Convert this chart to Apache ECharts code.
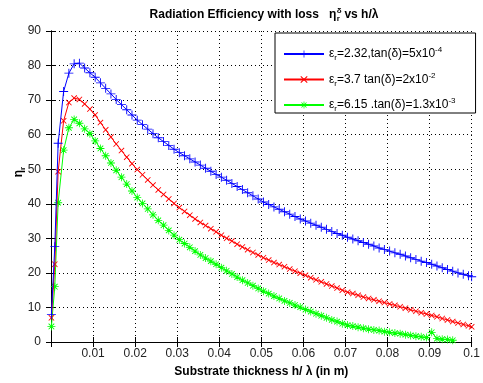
<!DOCTYPE html>
<html>
<head>
<meta charset="utf-8">
<script src="https://cdn.jsdelivr.net/npm/echarts@6/dist/echarts.min.js"></script>
<style>
  html, body { margin: 0; padding: 0; background: #fff; }
  #chart { width: 483px; height: 383px; }
</style>
</head>
<body>
<div id="chart"></div>
<script>
// Substrate thickness h/λ (x values shared by all curves)
const thickness = [
  0.0001, 0.0009, 0.0017, 0.003, 0.00425, 0.0055, 0.00675, 0.008, 0.00925, 0.0105,
  0.01175, 0.013, 0.01425, 0.0155, 0.01675, 0.018, 0.01925, 0.0205, 0.02175, 0.023,
  0.02425, 0.0255, 0.02675, 0.028, 0.02925, 0.0305, 0.03175, 0.033, 0.03425, 0.0355,
  0.03675, 0.038, 0.03925, 0.0405, 0.04175, 0.043, 0.04425, 0.0455, 0.04675, 0.048,
  0.04925, 0.0505, 0.05175, 0.053, 0.05425, 0.0555, 0.05675, 0.058, 0.05925, 0.0605,
  0.06175, 0.063, 0.06425, 0.0655, 0.06675, 0.068, 0.06925, 0.0705, 0.07175, 0.073,
  0.07425, 0.0755, 0.07675, 0.078, 0.07925, 0.0805, 0.08175, 0.083, 0.08425, 0.0855,
  0.08675, 0.088, 0.08925, 0.0905, 0.09175, 0.093, 0.09425, 0.0955, 0.09675, 0.098,
  0.09925, 0.1
];

// Radiation efficiency (%) for εr = 2.32, tan(δ) = 5e-4
const effDuroid = [
  8, 27.6, 57.5, 72.5, 77.8, 80.5, 80.7, 79.3, 77.9, 76.6,
  75.0, 73.4, 71.8, 70.2, 68.7, 67.2, 65.7, 64.2, 62.9, 61.6,
  60.3, 59.1, 58.0, 56.9, 55.8, 54.8, 53.9, 53.0, 52.1, 51.2,
  50.3, 49.4, 48.5, 47.7, 46.8, 45.9, 45.0, 44.1, 43.2, 42.3,
  41.4, 40.5, 39.8, 39.1, 38.4, 37.7, 37.0, 36.3, 35.6, 35.0,
  34.4, 33.8, 33.2, 32.6, 32.0, 31.4, 30.9, 30.3, 29.8, 29.3,
  28.8, 28.3, 27.8, 27.2, 26.8, 26.3, 25.8, 25.4, 24.9, 24.4,
  23.9, 23.4, 23.0, 22.5, 22.0, 21.5, 21.0, 20.5, 20.0, 19.6,
  19.2, 18.9
];

// Radiation efficiency (%) for εr = 3.7, tan(δ) = 2e-2
const effLossy = [
  7, 22.5, 49.3, 64.0, 69.3, 70.6, 70.2, 68.9, 67.4, 65.7,
  63.5, 61.4, 59.3, 57.3, 55.4, 53.5, 51.6, 49.9, 48.4, 46.9,
  45.4, 44.0, 42.7, 41.4, 40.1, 38.9, 37.8, 36.7, 35.6, 34.6,
  33.7, 32.8, 31.9, 30.9, 30.0, 29.2, 28.3, 27.5, 26.7, 25.9,
  25.2, 24.4, 23.7, 23.0, 22.4, 21.8, 21.1, 20.5, 19.9, 19.3,
  18.6, 18.0, 17.4, 16.8, 16.2, 15.6, 15.0, 14.4, 14.0, 13.5,
  13.0, 12.6, 12.2, 11.8, 11.4, 11.0, 10.6, 10.2, 9.8, 9.3,
  8.9, 8.5, 8.1, 7.7, 7.3, 6.8, 6.4, 5.9, 5.5, 5.1,
  4.7, 4.4
];

// Radiation efficiency (%) for εr = 6.15, tan(δ) = 1.3e-3 (curve stops near 0.0955)
const effHighK = [
  4.5, 16, 40.3, 55.5, 62.0, 64.4, 63.3, 61.7, 60.3, 58.2,
  56.0, 53.9, 51.8, 49.7, 47.7, 45.7, 43.7, 41.8, 40.1, 38.5,
  36.8, 35.2, 33.8, 32.3, 30.9, 29.6, 28.5, 27.4, 26.3, 25.2,
  24.3, 23.4, 22.5, 21.5, 20.6, 19.7, 18.8, 17.9, 17.1, 16.3,
  15.5, 14.7, 14.0, 13.3, 12.6, 11.9, 11.3, 10.7, 10.1, 9.4,
  8.8, 8.2, 7.6, 7.0, 6.4, 5.9, 5.3, 4.9, 4.6, 4.3,
  4.0, 3.7, 3.5, 3.3, 3.0, 2.8, 2.6, 2.4, 2.1, 1.9,
  1.7, 1.5, 1.3, 2.8, 1.0, 0.8, 0.7, 0.5
];

const seriesNames = ['duroid', 'lossy', 'highK'];
const legendLabels = {
  duroid: '{t|ε}{s|r}{t|=2.32,tan(δ)=5x10}{p|-4}',
  lossy:  '{t|ε}{s|r}{t|=3.7 tan(δ)=2x10}{p|-2}',
  highK:  '{t|ε}{s|r}{t|=6.15 .tan(δ)=1.3x10}{p|-3}'
};
const seriesColors = ['#0000ff', '#ff0000', '#00ff00'];

const FONT = '"Liberation Sans", Arial, sans-serif';

// marker shapes: plus, cross, star
const plusPath = 'path://M-0.1,-1H0.1V-0.1H1V0.1H0.1V1H-0.1V0.1H-1V-0.1H-0.1Z';
const crossPath = 'path://M-0.78,-0.62L-0.62,-0.78L0.78,0.62L0.62,0.78Z M0.62,-0.78L0.78,-0.62L-0.62,0.78L-0.78,0.62Z';
const starPath = 'path://M-0.1,-1H0.1V-0.1H1V0.1H0.1V1H-0.1V0.1H-1V-0.1H-0.1Z M-0.78,-0.62L-0.62,-0.78L0.78,0.62L0.62,0.78Z M0.62,-0.78L0.78,-0.62L-0.62,0.78L-0.78,0.62Z';
const markers = [
  { symbol: plusPath, size: 9 },
  { symbol: crossPath, size: 6 },
  { symbol: starPath, size: 8 }
];

function pairs(ys) {
  return ys.map((y, i) => [thickness[i], y]);
}
const curves = [effDuroid, effLossy, effHighK];

// title pieces laid out with measured widths so η carries stacked r / δ
const measureCtx = document.createElement('canvas').getContext('2d');
function textWidth(str, font) { measureCtx.font = font; return measureCtx.measureText(str).width; }
const titleMain = 'Radiation Efficiency with loss   η';
const titleTail = ' vs h/λ';
const titleFont = 'bold 12px ' + FONT;
const smallFont = 'bold 8px ' + FONT;
const wMain = textWidth(titleMain, titleFont);
const wScript = Math.max(textWidth('r', smallFont), textWidth('δ', smallFont));
const wTail = textWidth(titleTail, titleFont);
const titleCx = 264, titleCy = 15;
const titleX0 = titleCx - (wMain + wScript + wTail) / 2;

const chart = echarts.init(document.getElementById('chart'), null, { renderer: 'canvas' });

const axisLine = { show: true, lineStyle: { color: '#000', width: 1 } };
const axisTick = { show: true, inside: true, length: 5, lineStyle: { color: '#000' } };

chart.setOption({
  backgroundColor: '#fff',
  animation: false,
  grid: { left: 51, right: 6, top: 31, bottom: 37, containLabel: false },
  graphic: [
    { type: 'text', x: titleX0, y: titleCy, style: { text: titleMain, font: titleFont, fill: '#000', textAlign: 'left', textVerticalAlign: 'middle' } },
    { type: 'text', x: titleX0 + wMain + 0.5, y: titleCy + 4, style: { text: 'r', font: smallFont, fill: '#000', textAlign: 'left', textVerticalAlign: 'middle' } },
    { type: 'text', x: titleX0 + wMain + 0.5, y: titleCy - 4, style: { text: 'δ', font: smallFont, fill: '#000', textAlign: 'left', textVerticalAlign: 'middle' } },
    { type: 'text', x: titleX0 + wMain + wScript, y: titleCy, style: { text: titleTail, font: titleFont, fill: '#000', textAlign: 'left', textVerticalAlign: 'middle' } },
    // y-axis label: η with subscript r, reading bottom to top
    {
      type: 'text', x: 19, y: 172, rotation: Math.PI / 2,
      style: {
        text: '{e|η}{s|r}', textAlign: 'center', textVerticalAlign: 'middle',
        rich: {
          e: { fontSize: 12, fontWeight: 'bold', fontFamily: FONT, fill: '#000', lineHeight: 16 },
          s: { fontSize: 8, fontWeight: 'bold', fontFamily: FONT, fill: '#000', lineHeight: 8, verticalAlign: 'bottom' }
        }
      }
    }
  ],
  legend: {
    data: seriesNames,
    orient: 'vertical',
    left: 275,
    top: 33,
    padding: [13, 20, 0, 8],
    itemGap: 9.5,
    itemWidth: 40,
    itemHeight: 9,
    backgroundColor: '#fff',
    borderColor: '#000',
    borderWidth: 1,
    borderRadius: 0,
    formatter: name => legendLabels[name],
    textStyle: {
      fontFamily: FONT,
      rich: {
        t: { fontSize: 12, fontFamily: FONT, color: '#000', lineHeight: 16 },
        s: { fontSize: 8, fontFamily: FONT, color: '#000', lineHeight: 8, verticalAlign: 'bottom' },
        p: { fontSize: 8, fontFamily: FONT, color: '#000', lineHeight: 8, verticalAlign: 'top' }
      }
    }
  },
  xAxis: [
    {
      type: 'value', position: 'bottom', min: 0, max: 0.1, interval: 0.01,
      name: 'Substrate thickness h/ λ (in m)', nameLocation: 'middle', nameGap: 24,
      nameTextStyle: { fontFamily: FONT, fontSize: 12, fontWeight: 'bold', color: '#000' },
      axisLine, axisTick,
      axisLabel: { showMinLabel: false, margin: 6, fontFamily: FONT, fontSize: 12, color: '#222',
                   formatter: v => String(+v.toFixed(2)) },
      splitLine: { show: true, lineStyle: { color: '#000', width: 1, type: [1, 3] } }
    },
    {
      type: 'value', position: 'top', min: 0, max: 0.1, interval: 0.01,
      axisLine, axisTick, axisLabel: { show: false }, splitLine: { show: false }
    }
  ],
  yAxis: [
    {
      type: 'value', position: 'left', min: 0, max: 90, interval: 10,
      axisLine, axisTick,
      axisLabel: { margin: 10, fontFamily: FONT, fontSize: 12, color: '#222' },
      splitLine: { show: true, lineStyle: { color: '#000', width: 1, type: [1, 3] } }
    },
    {
      type: 'value', position: 'right', min: 0, max: 90, interval: 10,
      axisLine, axisTick, axisLabel: { show: false }, splitLine: { show: false }
    }
  ],
  series: curves.map((ys, i) => ({
    name: seriesNames[i],
    type: 'line',
    xAxisIndex: 0,
    yAxisIndex: 0,
    data: pairs(ys),
    symbol: markers[i].symbol,
    symbolSize: markers[i].size,
    showSymbol: true,
    showAllSymbol: true,
    clip: true,
    color: seriesColors[i],
    lineStyle: { color: seriesColors[i], width: 1 },
    itemStyle: { color: seriesColors[i] },
    z: 3 - i
  }))
});
</script>
</body>
</html>
